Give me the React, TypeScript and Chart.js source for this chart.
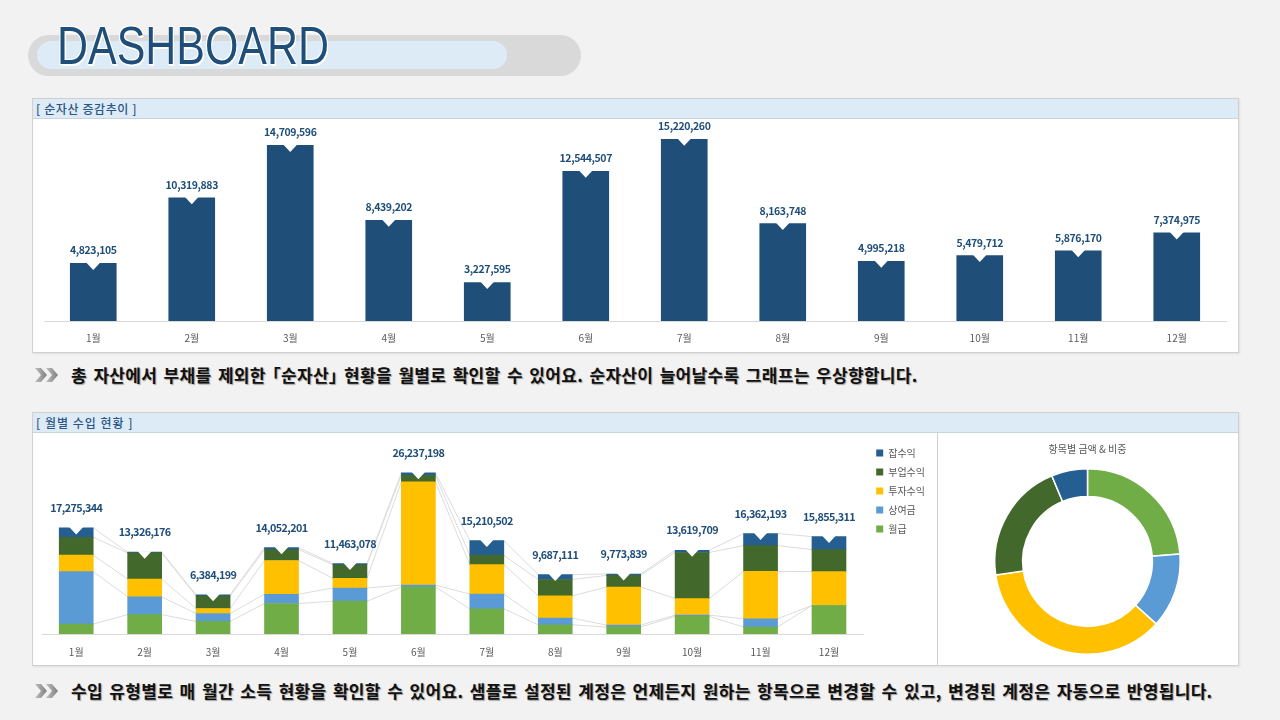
import React, { useEffect, useRef } from "react";
import { Chart, registerables } from "chart.js";

Chart.register(...registerables);

const FONT = '"Noto Sans CJK KR", "Noto Sans", sans-serif';

// ---------- data ----------
const months = ["1월", "2월", "3월", "4월", "5월", "6월", "7월", "8월", "9월", "10월", "11월", "12월"];

const netAssets = [4823105, 10319883, 14709596, 8439202, 3227595, 12544507, 15220260, 8163748, 4995218, 5479712, 5876170, 7374975];

const incomeNames = ["월급", "상여금", "투자수익", "부업수익", "잡수익"];
const salary = [1620000, 3150000, 2050000, 4970000, 5340000, 7650000, 4100000, 1500000, 1130000, 2860000, 1140000, 4640000];
const bonus = [8530000, 2900000, 1290000, 1500000, 2150000, 320000, 2400000, 1080000, 320000, 210000, 1350000, 0];
const investment = [2690000, 2900000, 810000, 5500000, 1570000, 16800000, 4800000, 3620000, 6200000, 2700000, 7700000, 5520000];
const sideJob = [2910000, 4250000, 2040000, 1780000, 2220000, 1070000, 1500000, 2670000, 1890000, 7500000, 4200000, 3590000];
const misc = [1525344, 126176, 194199, 302201, 183078, 397198, 2410502, 817111, 233839, 349709, 1972193, 2105311];

const incomeColors = ["#70AD47", "#5B9BD5", "#FFC000", "#43682B", "#255E91"];
const netColor = "#1F4E79";

const donutTitle = "항목별 금액 & 비중";

// ---------- plugins ----------
function topMarkPlugin(offset: number, fontSize: number, spacing: string) {
  return {
    id: "topMark",
    afterDatasetsDraw(chart: any) {
      const ctx = chart.ctx;
      const metas = chart.getSortedVisibleDatasetMetas().filter((m: any) => m.type === "bar");
      const last = metas[metas.length - 1];
      last.data.forEach((bar: any, i: number) => {
        const total = chart.data.datasets.reduce((s: number, ds: any) => s + (Number(ds.data[i]) || 0), 0);
        const x = bar.x;
        const y = bar.y;
        ctx.save();
        ctx.fillStyle = "#ffffff";
        ctx.beginPath();
        ctx.moveTo(x - 7, y - 1);
        ctx.lineTo(x + 7, y - 1);
        ctx.lineTo(x, y + 6.5);
        ctx.closePath();
        ctx.fill();
        ctx.fillStyle = "#1F4E79";
        ctx.font = `bold ${fontSize}px ${FONT}`;
        ctx.textAlign = "center";
        ctx.textBaseline = "middle";
        try { (ctx as any).letterSpacing = spacing; } catch (e) {}
        ctx.fillText(total.toLocaleString("en-US"), x, y - offset);
        ctx.restore();
      });
    },
  };
}

const seriesLinesPlugin = {
  id: "seriesLines",
  beforeDatasetsDraw(chart: any) {
    const ctx = chart.ctx;
    ctx.save();
    ctx.strokeStyle = "#dcdcdc";
    ctx.lineWidth = 1;
    chart.getSortedVisibleDatasetMetas().forEach((meta: any) => {
      const bars = meta.data;
      for (let i = 0; i < bars.length - 1; i++) {
        const a = bars[i];
        const b = bars[i + 1];
        ctx.beginPath();
        ctx.moveTo(a.x + a.width / 2, a.y);
        ctx.lineTo(b.x - b.width / 2, b.y);
        ctx.stroke();
      }
    });
    ctx.restore();
  },
};

function sum(a: number[]) {
  return a.reduce((s, v) => s + v, 0);
}

// ---------- components ----------
const Chevron = ({ left, top }: { left: number; top: number }) => (
  <svg style={{ position: "absolute", left, top }} width={28} height={16} viewBox="0 0 28 16">
    <defs>
      <linearGradient id="chg" x1="0" y1="0" x2="1" y2="0">
        <stop offset="0" stopColor="#bfbfbf" />
        <stop offset="1" stopColor="#7f7f7f" />
      </linearGradient>
    </defs>
    <polygon points="1,1 7,1 13,8 7,15 1,15 7,8" fill="url(#chg)" />
    <polygon points="12,1 18,1 24,8 18,15 12,15 18,8" fill="url(#chg)" />
  </svg>
);

const panelStyle: React.CSSProperties = {
  position: "absolute",
  background: "#ffffff",
  border: "1px solid #d0d0d0",
  boxSizing: "border-box",
  boxShadow: "1px 1px 2px rgba(0,0,0,0.08)",
};

const headerStyle: React.CSSProperties = {
  position: "absolute",
  left: 0,
  top: 0,
  right: 0,
  height: 20,
  background: "#DDEBF7",
  borderBottom: "1px solid #c8d3de",
  boxSizing: "border-box",
  color: "#2A5585",
  fontFamily: FONT,
  fontSize: 12,
  fontWeight: 500,
  lineHeight: "19px",
  paddingLeft: 3,
  whiteSpace: "pre",
};

const descStyle: React.CSSProperties = {
  position: "absolute",
  left: 71,
  fontFamily: FONT,
  fontWeight: 700,
  fontSize: 17,
  letterSpacing: 0.3,
  wordSpacing: 2.3,
  color: "#111111",
  whiteSpace: "nowrap",
  lineHeight: "20px",
  textShadow: "1px 1px 1px rgba(0,0,0,0.35)",
};

const halt: React.CSSProperties = { fontFeatureSettings: '"halt"' };

export default function App() {
  const topRef = useRef<HTMLCanvasElement>(null);
  const incRef = useRef<HTMLCanvasElement>(null);
  const pieRef = useRef<HTMLCanvasElement>(null);

  useEffect(() => {
    document.body.style.margin = "0";

    const tickFont = { family: FONT, size: 10 };

    const c1 = new Chart(topRef.current!, {
      type: "bar",
      data: {
        labels: months,
        datasets: [
          {
            label: "순자산",
            data: netAssets,
            backgroundColor: netColor,
            borderWidth: 0,
            barThickness: 46,
          },
        ],
      },
      options: {
        responsive: false,
        animation: false,
        layout: { padding: { left: 11, right: 11, top: 5, bottom: 0 } },
        plugins: { legend: { display: false }, tooltip: { enabled: false } },
        scales: {
          x: {
            grid: { display: false, drawTicks: false },
            border: { display: true, color: "#d9d9d9", width: 1 },
            ticks: { color: "#595959", font: tickFont, padding: 11 },
          },
          y: { display: false, min: 0, max: 16500000 },
        },
      },
      plugins: [topMarkPlugin(13, 10.5, "-0.4px")],
    });

    const series = [salary, bonus, investment, sideJob, misc];
    const c2 = new Chart(incRef.current!, {
      type: "bar",
      data: {
        labels: months,
        datasets: series.map((d, k) => ({
          label: incomeNames[k],
          data: d,
          backgroundColor: incomeColors[k],
          borderWidth: 0,
          barThickness: 34,
        })),
      },
      options: {
        responsive: false,
        animation: false,
        layout: { padding: { left: 9, right: 1, top: 6, bottom: 6 } },
        plugins: {
          tooltip: { enabled: false },
          legend: {
            position: "right",
            align: "start",
            reverse: true,
            labels: {
              boxWidth: 7,
              boxHeight: 7,
              padding: 9,
              color: "#595959",
              font: { family: FONT, size: 10 },
            },
          },
        },
        scales: {
          x: {
            stacked: true,
            grid: { display: false, drawTicks: false },
            border: { display: true, color: "#d9d9d9", width: 1 },
            ticks: { color: "#595959", font: tickFont, padding: 12 },
          },
          y: {
            stacked: true,
            position: "right",
            display: true,
            min: 0,
            max: 31750000,
            grid: { display: false, drawTicks: false },
            border: { display: false },
            ticks: { display: false },
            afterFit: (axis: any) => {
              axis.width = 4;
            },
          },
        },
      },
      plugins: [seriesLinesPlugin, topMarkPlugin(20, 10.8, "-0.6px")],
    });

    const c3 = new Chart(pieRef.current!, {
      type: "doughnut",
      data: {
        labels: incomeNames,
        datasets: [
          {
            data: series.map((s) => sum(s)),
            backgroundColor: incomeColors,
            borderColor: "#ffffff",
            borderWidth: 1.5,
          },
        ],
      },
      options: {
        responsive: false,
        animation: false,
        cutout: "70%",
        layout: { padding: { bottom: 9 } },
        plugins: {
          legend: { display: false },
          tooltip: { enabled: false },
          title: {
            display: true,
            text: donutTitle,
            color: "#595959",
            font: { family: FONT, size: 10, weight: "normal" },
            padding: { top: 10, bottom: 13 },
          },
        },
      },
    });

    return () => {
      c1.destroy();
      c2.destroy();
      c3.destroy();
    };
  }, []);

  return (
    <div
      style={{
        position: "fixed",
        left: 0,
        top: 0,
        width: 1280,
        height: 720,
        background: "#F2F2F2",
        overflow: "hidden",
        fontFamily: FONT,
      }}
    >
      {/* title pill */}
      <div
        style={{
          position: "absolute",
          left: 28,
          top: 35,
          width: 553,
          height: 41,
          borderRadius: 21,
          background: "#D9D9D9",
        }}
      />
      <div
        style={{
          position: "absolute",
          left: 37,
          top: 41,
          width: 470,
          height: 28,
          borderRadius: 14,
          background: "#DDEBF7",
        }}
      />
      <div
        style={{
          position: "absolute",
          left: 57,
          top: 18,
          fontFamily: '"Liberation Sans", Arial, sans-serif',
          fontSize: 54,
          lineHeight: "54px",
          color: "#1F4E79",
          transform: "scaleX(0.795)",
          transformOrigin: "left top",
          whiteSpace: "nowrap",
          textShadow: "1.5px 1.5px 0 #ffffff, -1px -1px 0 #ffffff, 1px -1px 0 #ffffff, -1px 1px 0 #ffffff",
        }}
      >
        DASHBOARD
      </div>

      {/* panel 1 */}
      <div style={{ ...panelStyle, left: 32, top: 98, width: 1207, height: 255 }}>
        <div style={{ ...headerStyle, letterSpacing: 0.6 }}>[ 순자산 증감추이 ]</div>
      </div>
      <canvas
        ref={topRef}
        width={1204}
        height={236}
        style={{ position: "absolute", left: 33, top: 119, width: 1204, height: 236 }}
      />

      <Chevron left={34} top={367} />
      <div style={{ ...descStyle, top: 365 }}>
        총 자산에서 부채를 제외한 <span style={halt}>「</span>순자산<span style={halt}>」</span> 현황을 월별로 확인할 수 있어요. 순자산이 늘어날수록 그래프는 우상향합니다.
      </div>

      {/* panel 2 */}
      <div style={{ ...panelStyle, left: 32, top: 412, width: 1207, height: 254 }}>
        <div style={{ ...headerStyle, letterSpacing: 1 }}>[ 월별 수입 현황 ]</div>
        <div
          style={{
            position: "absolute",
            left: 904,
            top: 20,
            width: 1,
            bottom: 0,
            background: "#d0d0d0",
          }}
        />
      </div>
      <canvas
        ref={incRef}
        width={903}
        height={243}
        style={{ position: "absolute", left: 33, top: 433, width: 903, height: 243 }}
      />
      <canvas
        ref={pieRef}
        width={299}
        height={231}
        style={{ position: "absolute", left: 938, top: 433, width: 299, height: 231 }}
      />

      <Chevron left={34} top={683} />
      <div style={{ ...descStyle, top: 681 }}>
        수입 유형별로 매 월간 소득 현황을 확인할 수 있어요. 샘플로 설정된 계정은 언제든지 원하는 항목으로 변경할 수 있고, 변경된 계정은 자동으로 반영됩니다.
      </div>
    </div>
  );
}
